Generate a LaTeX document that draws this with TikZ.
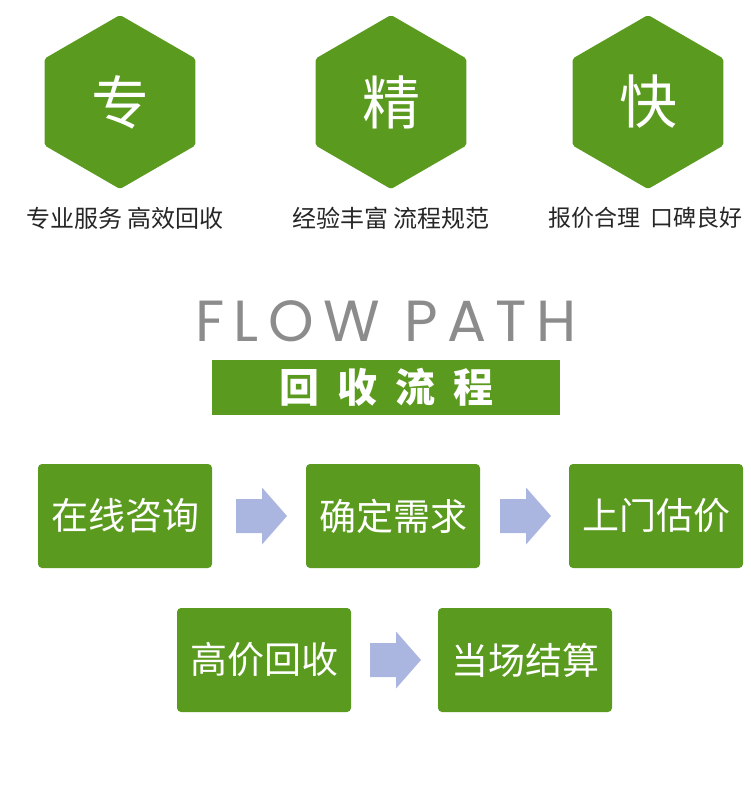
\documentclass[tikz,border=0pt]{standalone}
\usepackage{fontspec}
\usetikzlibrary{shapes.geometric}
\newfontfamily\cjk{Noto Sans CJK SC}
\newfontfamily\bannerfont[LetterSpace=45]{Noto Sans CJK SC}
\newfontfamily\flowfont[LetterSpace=16]{Poppins}
\definecolor{leafgreen}{HTML}{5A9A1E}
\definecolor{arrowblue}{HTML}{AAB6E0}
\definecolor{flowgray}{HTML}{8C8C8C}

\tikzset{flowarrow/.pic={
	\fill[arrowblue] (-25.5,-17) -- (0.5,-17) -- (0.5,-28.5) -- (25.5,0)
		-- (0.5,28.5) -- (0.5,17) -- (-25.5,17) -- cycle;}}

\begin{document}
\begin{tikzpicture}[x=1pt,y=-1pt,
	hexa/.style={regular polygon,regular polygon sides=6,shape border rotate=90,
		minimum size=174pt,inner sep=0pt,rounded corners=2pt,fill=leafgreen,
		text=white,font=\cjk\fontsize{58}{60}\selectfont},
	tagline/.style={inner sep=0pt,text=black!85,font=\cjk\fontsize{24}{26}\selectfont},
	stagebox/.style={rectangle,rounded corners=4pt,fill=leafgreen,text=white,
		minimum width=174pt,minimum height=104pt,inner sep=0pt,
		font=\cjk\fontsize{37}{40}\selectfont}]

\useasboundingbox (0,0) rectangle (750,787);

% three hexagons and their lines
\node[hexa] (H1) at (120,102) {专};
\node[hexa] (H2) at (391,102) {精};
\node[hexa] (H3) at (648,102) {快};

\node[tagline] (T1) at (125,218) {专业服务 高效回收};
\node[tagline] (T2) at (391,218) {经验丰富 流程规范};
\node[tagline,anchor=west,font=\cjk\fontsize{23}{25}\selectfont] (T3) at (548,218) {报价合理\hspace{10pt}口碑良好};

% title
\node[inner sep=0pt,text=flowgray,font=\flowfont\fontsize{58}{60}\selectfont] (FP) at (386,321) {FLOW PATH};
\node[fill=leafgreen,minimum width=348pt,minimum height=55pt,inner sep=0pt,
	text=white,font=\bannerfont\bfseries\fontsize{40}{42}\selectfont] (BN) at (386,387) {回收流程};

% steps
\node[stagebox] (S1) at (125,516) {在线咨询};
\node[stagebox] (S2) at (393,516) {确定需求};
\node[stagebox] (S3) at (656,516) {上门估价};
\node[stagebox] (S4) at (264,660) {高价回收};
\node[stagebox] (S5) at (525,660) {当场结算};

\pic (A1) at (261.5,516) {flowarrow};
\pic (A2) at (525.5,516) {flowarrow};
\pic (A3) at (395.5,660) {flowarrow};
\end{tikzpicture}
\end{document}
